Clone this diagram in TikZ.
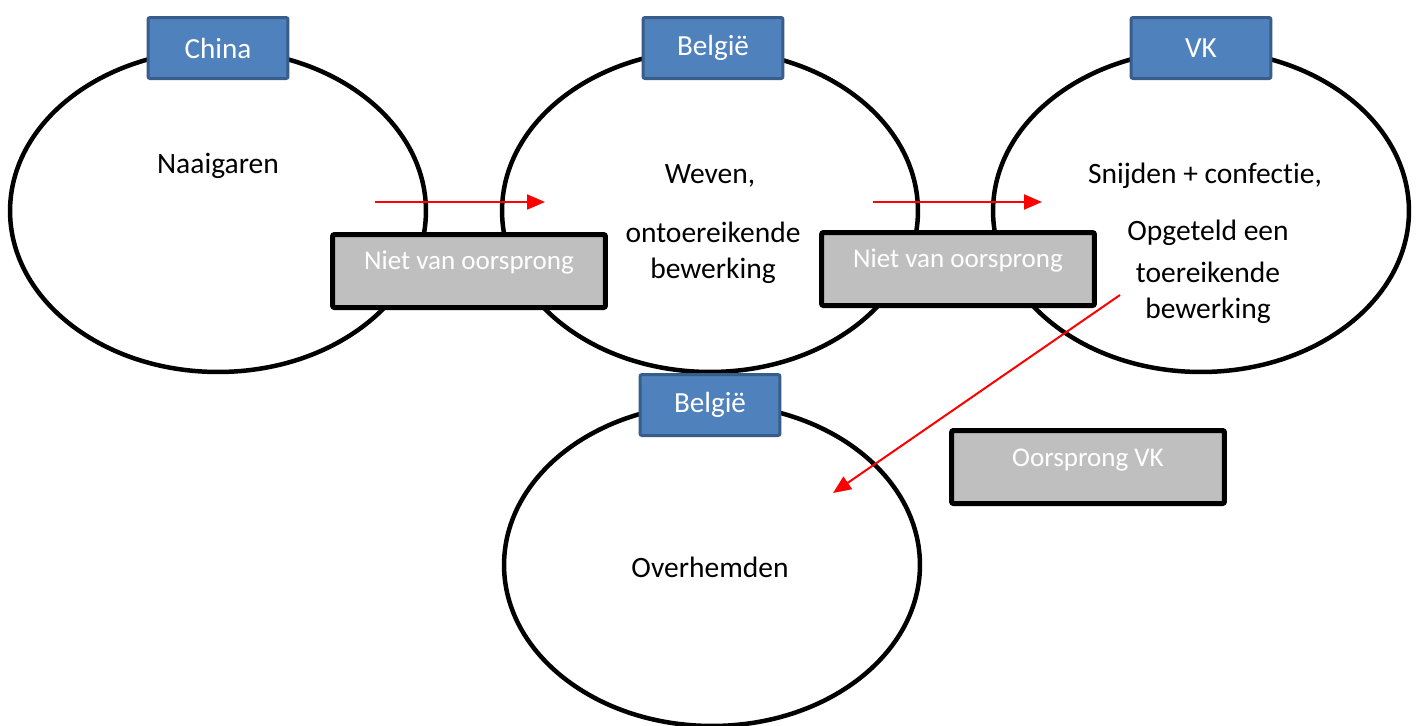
\documentclass[tikz,border=0pt]{standalone}
\usepackage{fontspec}
\setmainfont[Ligatures={NoCommon}]{Carlito}
\usetikzlibrary{shapes.geometric,arrows.meta}
\definecolor{boxblue}{HTML}{4F81BD}
\definecolor{boxblueedge}{HTML}{385D8A}
\definecolor{boxgray}{HTML}{BFBFBF}
\begin{document}
\begin{tikzpicture}[x=0.02cm,y=-0.02cm,
  region/.style={ellipse,draw=black,fill=white,line width=0.09cm,
    minimum width=8.32cm,minimum height=6.44cm,inner sep=0pt},
  country/.style={rectangle,rounded corners=0.04cm,draw=boxblueedge,fill=boxblue,
    line width=0.06cm,minimum width=2.8cm,minimum height=1.22cm,inner sep=0pt,
    text=white,font=\fontsize{16.6}{20}\selectfont},
  status/.style={rectangle,rounded corners=0.04cm,draw=black,fill=boxgray,
    line width=0.1cm,minimum width=5.46cm,minimum height=1.46cm,inner sep=0pt},
  statustext/.style={text=white,font=\fontsize{15.4}{19}\selectfont,inner sep=0pt},
  body/.style={font=\fontsize{16.8}{20}\selectfont,inner sep=0pt,text=black},
  flow/.style={draw=red,line width=0.04cm,-{Triangle[length=0.36cm,width=0.3cm]}}]
\useasboundingbox (0,0) rectangle (1417,725);

% production stages
\node[region] (china)   at (218,211) {};
\node[region] (belgie)  at (710,211) {};
\node[region] (vk)      at (1201,211) {};
\node[region] (shirts)  at (712,565) {};

% texts inside the stages
\node[body] (t1) at (218,166) {Naaigaren};
\node[body] (t2a) at (710,176) {Weven,};
\node[body] (t2b) at (713,232) {ontoereikende};
\node[body] (t2c) at (713,271) {bewerking};
\node[body] (t3a) at (1205,176) {Snijden + confectie,};
\node[body] (t3b) at (1208,233) {Opgeteld een};
\node[body] (t3c) at (1208,272) {toereikende};
\node[body] (t3d) at (1208,311) {bewerking};
\node[body] (t4) at (710,567) {Overhemden};

% flow between stages
\coordinate (f1s) at (375,202);
\coordinate (f1e) at (545,202);
\coordinate (f2s) at (873,202);
\coordinate (f2e) at (1042,202);
\coordinate (f3s) at (1120,295);
\coordinate (f3e) at (833,493);

% origin status
\node[status] (s1) at (469,271) {};
\node[statustext] (s1t) at (469,263) {Niet van oorsprong};
\node[status] (s2) at (958,269) {};
\node[statustext] (s2t) at (958,261) {Niet van oorsprong};
\node[status] (s3) at (1088,467) {};
\node[statustext] (s3t) at (1088,460) {Oorsprong VK};

\draw[flow] (f1s) -- (f1e);
\draw[flow] (f2s) -- (f2e);
\draw[flow] (f3s) -- (f3e);

% country labels
\node[country] (c1) at (218,48) {China};
\node[country] (c2) at (713,48) {België};
\node[country] (c3) at (1201,48) {VK};
\node[country] (c4) at (710,405) {België};
\end{tikzpicture}
\end{document}
